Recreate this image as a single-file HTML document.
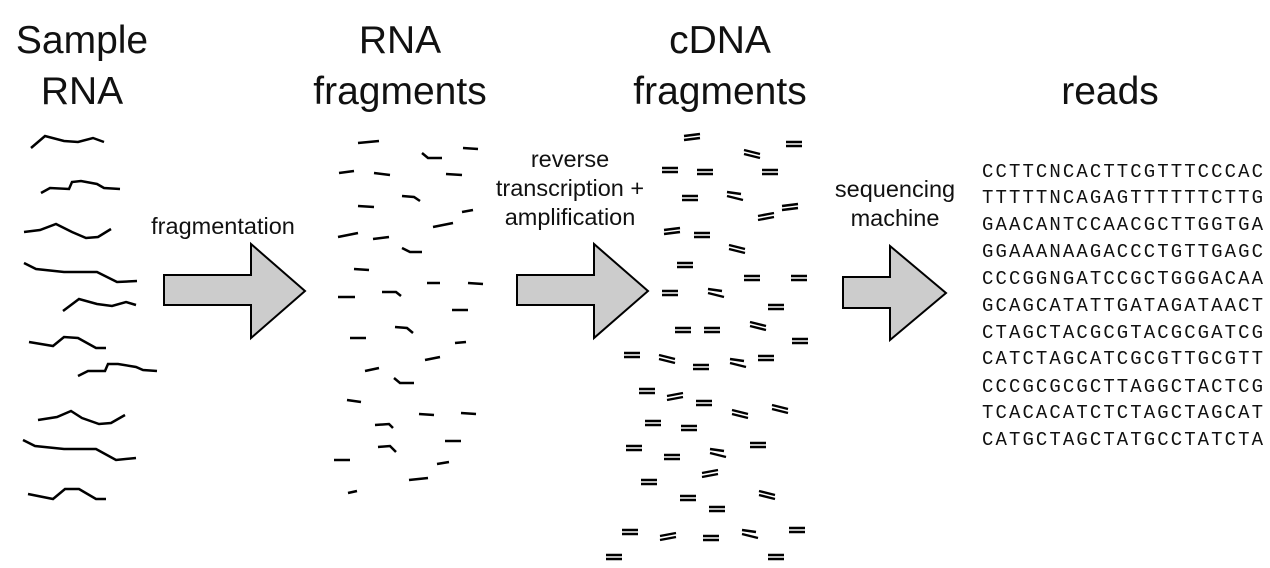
<!DOCTYPE html>
<html><head><meta charset="utf-8"><style>
html,body{margin:0;padding:0;background:#fff;width:1270px;height:568px;overflow:hidden}
svg text{font-family:"Liberation Sans",sans-serif;fill:#111}
.t{font-size:39px}.m{font-size:23.5px}
.r{font-family:"Liberation Mono",monospace;font-size:19px;fill:#111}
</style></head><body>
<svg width="1270" height="568" viewBox="0 0 1270 568" xmlns="http://www.w3.org/2000/svg">
<g text-anchor="middle">
<text class="t" x="82" y="53">Sample</text><text class="t" x="82" y="104">RNA</text>
<text class="t" x="400" y="53">RNA</text><text class="t" x="400" y="104">fragments</text>
<text class="t" x="720" y="53">cDNA</text><text class="t" x="720" y="104">fragments</text>
<text class="t" x="1110" y="104">reads</text>
<text class="m" x="223" y="234">fragmentation</text>
<text class="m" x="570" y="167">reverse</text><text class="m" x="570" y="196">transcription +</text><text class="m" x="570" y="225">amplification</text>
<text class="m" x="895" y="197">sequencing</text><text class="m" x="895" y="226">machine</text>
</g>
<g fill="#cccccc" stroke="#000" stroke-width="2" stroke-linejoin="miter">
<polygon points="164,275 251,275 251,244 305,291 251,338 251,305 164,305"/>
<polygon points="517,275 594,275 594,244 648,291 594,338 594,305 517,305"/>
<polygon points="843,277 890,277 890,246 946,293 890,340 890,308 843,308"/>
</g>
<g fill="none" stroke="#000" stroke-width="2.5">
<polyline points="31,148 45,136 64,141 78,142 93,138 104,142"/>
<polyline points="41,193 50,188 69,189 72,182 81,181 97,184 104,188 120,189"/>
<polyline points="24,232 40,230 56,224 72,232 86,238 98,237 111,229"/>
<polyline points="24,263 36,269 64,272 97,272 117,282 137,281"/>
<polyline points="63,311 79,299 97,304 112,306 126,302 136,305"/>
<polyline points="29,342 53,346 64,337 78,338 96,348 106,348"/>
<polyline points="78,376 88,371 105,371 108,364 118,364 136,367 143,370 157,371"/>
<polyline points="38,420 57,417 71,411 82,418 99,424 111,423 125,415"/>
<polyline points="23,440 35,446 64,449 96,449 116,460 136,458"/>
<polyline points="28,494 53,499 65,489 79,489 96,499 106,499"/>
<polyline points="358,143 379,141"/><polyline points="422,153 428,158 442,158"/><polyline points="463,148 478,149"/>
<polyline points="339,173 354,171"/><polyline points="374,173 390,175"/><polyline points="446,174 462,175"/>
<polyline points="402,196 414,197 420,201"/><polyline points="358,206 374,207"/><polyline points="462,212 473,210"/>
<polyline points="433,227 453,223"/><polyline points="338,237 358,233"/><polyline points="373,239 389,237"/>
<polyline points="402,248 410,252 422,252"/><polyline points="354,269 369,270"/><polyline points="427,283 440,283"/>
<polyline points="468,283 483,284"/><polyline points="338,297 355,297"/><polyline points="382,292 396,292 401,296"/>
<polyline points="452,310 468,310"/><polyline points="350,338 366,338"/><polyline points="395,327 407,328 413,333"/>
<polyline points="455,343 466,342"/><polyline points="425,360 440,357"/><polyline points="365,371 379,368"/>
<polyline points="394,378 400,383 414,383"/><polyline points="347,400 361,402"/><polyline points="419,414 434,415"/>
<polyline points="461,413 476,414"/><polyline points="375,425 389,424 393,428"/><polyline points="445,441 461,441"/>
<polyline points="378,447 390,446 396,452"/><polyline points="334,460 350,460"/><polyline points="437,464 449,462"/>
<polyline points="409,480 428,478"/><polyline points="348,493 357,491"/>
</g>
<g fill="none" stroke="#000" stroke-width="2.4">
<path d="M684,136l16,-2M684,140l16,-2 M744,150l16,4M744,154l16,4 M786,142h16M786,146h16 M662,168h16M662,172h16 M697,170h16M697,174h16 M762,170h16M762,174h16 M682,196h16M682,200h16 M727,192l14,2M727,196l16,4 M782,206l16,-2M782,210l16,-2 M758,216l16,-3M758,220l16,-3 M664,230l16,-2M664,234l16,-2 M694,233h16M694,237h16 M729,245l16,4M729,249l16,4 M677,263h16M677,267h16 M744,276h16M744,280h16 M791,276h16M791,280h16 M662,291h16M662,295h16 M708,289l14,2M708,293l16,4 M768,305h16M768,309h16 M675,328h16M675,332h16 M704,328h16M704,332h16 M750,322l16,4M750,326l16,4 M792,339h16M792,343h16 M624,353h16M624,357h16 M659,355l16,4M659,359l16,4 M693,365h16M693,369h16 M730,359l14,2M730,363l16,4 M758,356h16M758,360h16 M639,389h16M639,393h16 M667,396l16,-3M667,400l16,-3 M696,401h16M696,405h16 M732,410l16,4M732,414l16,4 M772,405l16,4M772,409l16,4 M645,421h16M645,425h16 M681,426h16M681,430h16 M626,446h16M626,450h16 M664,455h16M664,459h16 M710,449l14,2M710,453l16,4 M750,443h16M750,447h16 M641,480h16M641,484h16 M702,473l16,-3M702,477l16,-3 M759,491l16,4M759,495l16,4 M680,496h16M680,500h16 M709,507h16M709,511h16 M622,530h16M622,534h16 M660,536l16,-3M660,540l16,-3 M703,536h16M703,540h16 M742,530l14,2M742,534l16,4 M789,528h16M789,532h16 M606,555h16M606,559h16 M768,555h16M768,559h16"/>
</g>
<g>
<text class="r" x="982" y="177" textLength="281">CCTTCNCACTTCGTTTCCCAC</text>
<text class="r" x="982" y="203" textLength="281">TTTTTNCAGAGTTTTTTCTTG</text>
<text class="r" x="982" y="230" textLength="281">GAACANTCCAACGCTTGGTGA</text>
<text class="r" x="982" y="257" textLength="281">GGAAANAAGACCCTGTTGAGC</text>
<text class="r" x="982" y="284" textLength="281">CCCGGNGATCCGCTGGGACAA</text>
<text class="r" x="982" y="311" textLength="281">GCAGCATATTGATAGATAACT</text>
<text class="r" x="982" y="338" textLength="281">CTAGCTACGCGTACGCGATCG</text>
<text class="r" x="982" y="364" textLength="281">CATCTAGCATCGCGTTGCGTT</text>
<text class="r" x="982" y="392" textLength="281">CCCGCGCGCTTAGGCTACTCG</text>
<text class="r" x="982" y="418" textLength="281">TCACACATCTCTAGCTAGCAT</text>
<text class="r" x="982" y="445" textLength="281">CATGCTAGCTATGCCTATCTA</text>
</g>
</svg>
</body></html>
